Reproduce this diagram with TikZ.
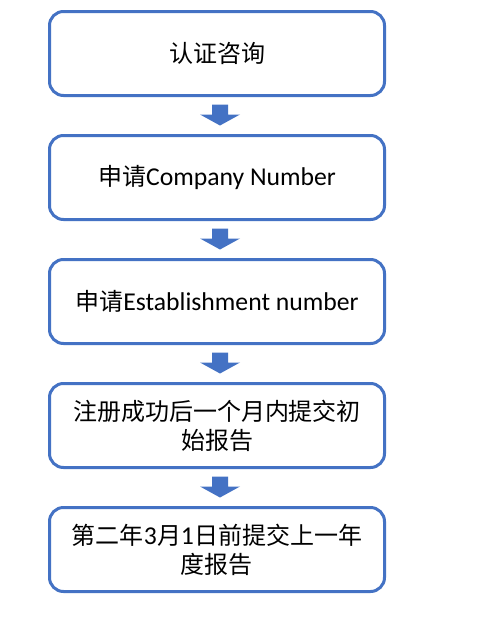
\documentclass[tikz,border=0pt]{standalone}
\usepackage{fontspec}
\setmainfont{Carlito}[Scale=1.07]
\newfontfamily\cjk{Noto Sans CJK SC}
\usetikzlibrary{calc}
\definecolor{boxblue}{HTML}{4472C4}
\begin{document}
\begin{tikzpicture}[x=1pt,y=-1pt,
  box/.style={draw=boxblue, line width=3pt, rounded corners=14pt, minimum width=335pt, minimum height=84pt, inner sep=0pt, align=center, font=\fontsize{24}{29}\selectfont},
  flowarrow/.style={fill=boxblue}]
\useasboundingbox[fill=white] (0,0) rectangle (481,640);
\node[box] (b1) at (217,53.5) {\raisebox{-2pt}{\cjk 认证咨询}};
\node[box] (b2) at (217,177.5) {\raisebox{-2pt}{{\cjk 申请}Company Number}};
\node[box] (b3) at (217,301.5) {\raisebox{-2pt}{{\cjk 申请}Establishment number}};
\node[box] (b4) at (217,425.5) {\cjk 注册成功后一个月内提交初\\\cjk 始报告};
\node[box] (b5) at (217,549.5) {{\cjk 第二年}3{\cjk 月}1{\cjk 日前提交上一年}\\\cjk 度报告};
\foreach \a/\b in {b1/b2,b2/b3,b3/b4,b4/b5}{
  \fill[flowarrow] ($(\a.south)+(-5,7.5)$) -- ($(\a.south)+(11,7.5)$) -- ($(\a.south)+(11,17.5)$) -- ($(\a.south)+(23,17.5)$)
    -- ($(\b.north)+(3,-8.5)$) -- ($(\a.south)+(-17,17.5)$) -- ($(\a.south)+(-5,17.5)$) -- cycle;
}
\end{tikzpicture}
\end{document}
